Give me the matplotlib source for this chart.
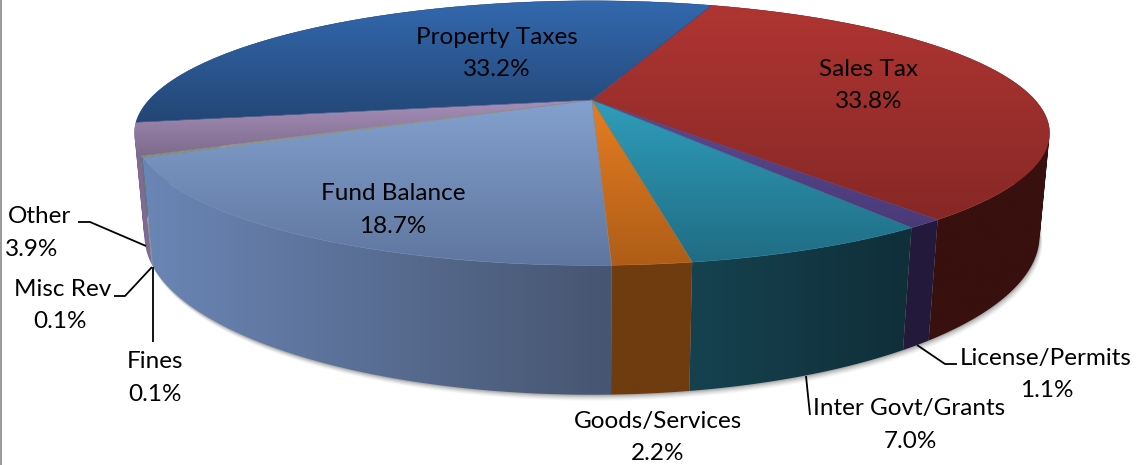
import numpy as np
import matplotlib
matplotlib.use("Agg")
import matplotlib.pyplot as plt
from matplotlib.patches import Polygon, PathPatch
from matplotlib.path import Path
from matplotlib.colors import to_rgb, LinearSegmentedColormap

categories = ["Sales Tax", "License/Permits", "Inter Govt/Grants", "Goods/Services",
              "Fund Balance", "Fines", "Misc Rev", "Other", "Property Taxes"]
shares = [33.8, 1.1, 7.0, 2.2, 18.7, 0.1, 0.1, 3.9, 33.2]

top_colors = ["#B03532 #862826", "#5C4A90 #4A3A78", "#2F9EBB #206C84", "#E67E22 #AE5D17",
              "#84A1CF #5F769F", "#93A080 #8A9676", "#93A080 #8A9676", "#A78FB8 #7C6A8C",
              "#3369AF #234675"]
wall_colors = ["#3A100E #38100E", "#231A3B #231A3B", "#164250 #0F2F39", "#6F3C10 #6F3C10",
               "#6B86B6 #465570", "#8A8F80 #8A8F80", "#8A8F80 #8A8F80", "#7D6C92 #7D6C92",
               "#1E3E66 #1E3E66"]

START = 70.5
W, H = 1138, 465
TOP = dict(cx=592, cy=100, a=124.0, b=443.0, k=0.25)
BOT = dict(cx=592, cy=197, a=149.5, b=434.0, k=0.244)


def project(theta_deg, p):
    t = np.radians(theta_deg)
    u, v = np.cos(t), np.sin(t)
    d = 1 + p["k"] * v
    return p["cx"] + p["b"] * u / d, p["cy"] - p["a"] * v / d


def mix(c1, c2, t):
    c1, c2 = np.array(to_rgb(c1)), np.array(to_rgb(c2))
    return tuple(c1 + (c2 - c1) * t)


fig = plt.figure(figsize=(W / 100, H / 100), dpi=100)
ax = fig.add_axes([0, 0, 1, 1])
ax.set_xlim(0, W)
ax.set_ylim(H, 0)
ax.axis("off")

total = sum(shares)
bounds = START - np.cumsum([0] + shares) * 360 / total

# soft shadow under the pie
tt = np.linspace(0, 360, 361)
bx, by = project(tt, BOT)
for off, al in [(6, 0.03), (5, 0.04), (4, 0.05), (3, 0.06), (2, 0.08), (1, 0.10)]:
    ax.add_patch(Polygon(np.c_[bx + off * 0.5, by + off], closed=True, fc="k", ec="none",
                         alpha=al, zorder=1))


def gradient_fill(path, c0, c1, horizontal, z, seam=True):
    patch = PathPatch(path, transform=ax.transData, fc="none", ec="none")
    ax.add_patch(patch)
    ramp = np.linspace(0, 1, 256)
    data = ramp.reshape(1, -1) if horizontal else ramp.reshape(-1, 1)
    cmap = LinearSegmentedColormap.from_list("g", [c0, c1])
    v = path.vertices
    im = ax.imshow(data, cmap=cmap, aspect="auto", origin="upper", vmin=0, vmax=1,
                   extent=[v[:, 0].min() - 2, v[:, 0].max() + 2,
                           v[:, 1].max() + 1, v[:, 1].min() - 1],
                   interpolation="bilinear", zorder=z)
    im.set_clip_path(patch)
    if seam:
        ax.add_patch(PathPatch(path, fc="none", ec=mix(c0, c1, 0.5), lw=0.3, zorder=z + 0.001))


def wall_path(a0, a1):
    """Union of consistently wound quads, so the silhouette follows the tangent edge."""
    ang = np.linspace(a0, a1, max(3, int(abs(a0 - a1) * 2)))
    x1, y1 = project(ang, TOP)
    x2, y2 = project(ang, BOT)
    parts = []
    for j in range(len(ang) - 1):
        q = np.array([[x1[j], y1[j]], [x1[j + 1], y1[j + 1]],
                      [x2[j + 1], y2[j + 1]], [x2[j], y2[j]]])
        area = 0.5 * np.sum(q[:, 0] * np.roll(q[:, 1], -1) - np.roll(q[:, 0], -1) * q[:, 1])
        if area < 0:
            q = q[::-1]
        parts.append(Path(np.vstack([q, q[:1]]), closed=True))
    return Path.make_compound_path(*parts)


# side walls, back to front
order = sorted(range(len(shares)),
               key=lambda i: -np.sin(np.radians((bounds[i] + bounds[i + 1]) / 2)))
for rank, i in enumerate(order):
    c0, c1 = wall_colors[i].split()
    gradient_fill(wall_path(bounds[i], bounds[i + 1]), c0, c1, True, 2 + rank * 0.01, seam=False)

# top faces with a vertical gradient
for i in range(len(shares)):
    ang = np.linspace(bounds[i], bounds[i + 1],
                      max(3, int(abs(bounds[i] - bounds[i + 1]) * 2)))
    x, y = project(ang, TOP)
    c0, c1 = top_colors[i].split()
    gradient_fill(Path(np.c_[np.r_[TOP["cx"], x, TOP["cx"]], np.r_[TOP["cy"], y, TOP["cy"]]],
                       closed=True), c0, c1, False, 3)
ax.set_xlim(0, W)
ax.set_ylim(H, 0)

# left border of the picture
ax.plot([0.8, 0.8], [0, H], color="#9A9A9A", lw=1.4, zorder=5)

label_xy = {
    "Sales Tax": (869, 69, 869, 101),
    "License/Permits": (1046, 358, 1047, 390),
    "Inter Govt/Grants": (909, 408, 910, 441),
    "Goods/Services": (658, 421, 658, 453),
    "Fund Balance": (393, 193, 393, 226),
    "Fines": (155, 361, 155, 394),
    "Misc Rev": (63, 289, 60, 321),
    "Other": (40, 216, 32, 249),
    "Property Taxes": (497, 37, 497, 70),
}
for name, val in zip(categories, shares):
    x1, y1, x2, y2 = label_xy[name]
    ax.text(x1, y1, name, ha="center", va="center", fontsize=17.5, family="Lato",
            color="#000000", zorder=6)
    ax.text(x2, y2, f"{val:.1f}%", ha="center", va="center", fontsize=17.5, family="Lato",
            color="#000000", zorder=6)

# leader lines
leaders = [
    ([78, 90, 146], [222, 222, 246]),
    ([114, 125, 152], [296, 296, 267]),
    ([153, 153], [267, 342]),
    ([917, 945, 957], [345, 364, 364]),
    ([806, 810], [376, 415]),
]
for lx, ly in leaders:
    ax.plot(lx, ly, color="#000000", lw=1.3, zorder=5, solid_capstyle="butt")

fig.savefig("out.png", dpi=100)
